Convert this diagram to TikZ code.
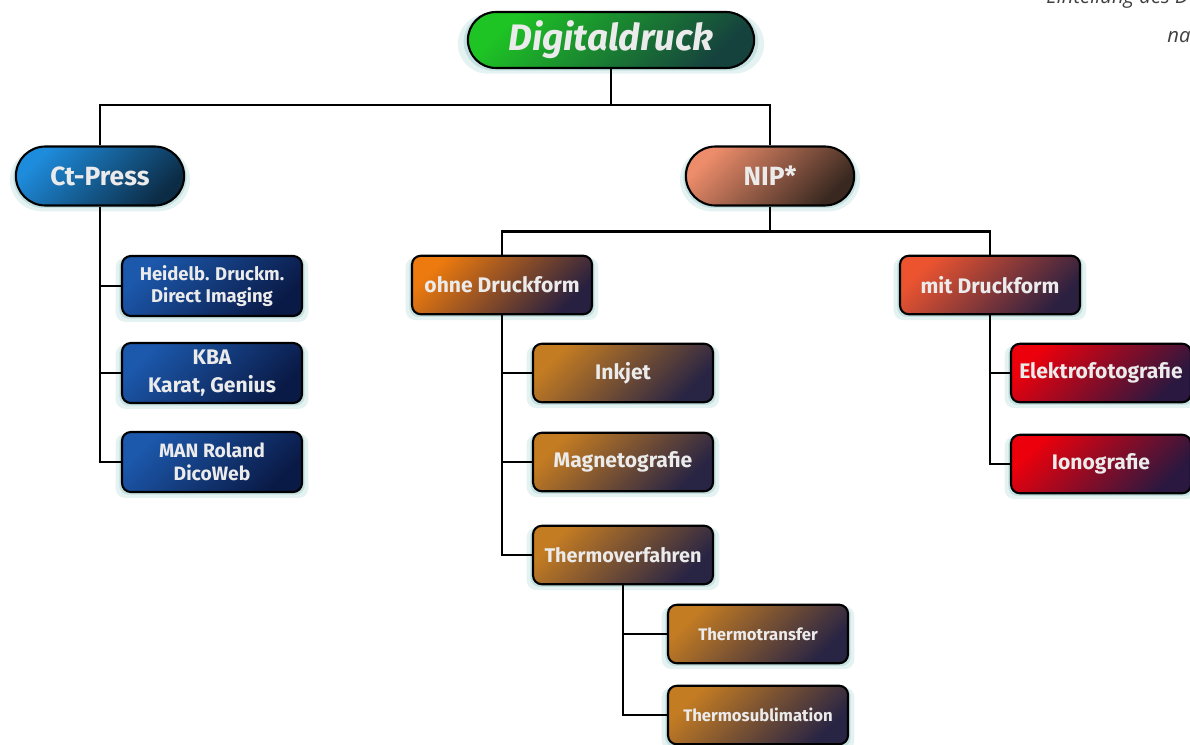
\documentclass[tikz,border=0pt]{standalone}
\usepackage{fontspec}
\setsansfont{Fira Sans}
\newfontfamily\notefont{Open Sans}
\usetikzlibrary{positioning,shapes.misc,shadows}
\definecolor{GreenTop}{RGB}{30,196,36}
\definecolor{GreenEnd}{RGB}{22,66,62}
\definecolor{SkyTop}{RGB}{30,140,220}
\definecolor{SkyEnd}{RGB}{12,44,70}
\definecolor{NipTop}{RGB}{236,140,106}
\definecolor{NipEnd}{RGB}{56,40,32}
\definecolor{NavyTop}{RGB}{28,88,172}
\definecolor{NavyEnd}{RGB}{10,26,70}
\definecolor{OhneTop}{RGB}{236,122,14}
\definecolor{OhneEnd}{RGB}{40,32,64}
\definecolor{MitTop}{RGB}{236,84,48}
\definecolor{MitEnd}{RGB}{44,32,64}
\definecolor{BrownTop}{RGB}{196,124,34}
\definecolor{BrownEnd}{RGB}{40,36,68}
\definecolor{RedTop}{RGB}{236,0,12}
\definecolor{RedEnd}{RGB}{42,24,64}
\definecolor{GlowColor}{RGB}{170,212,212}

\begin{document}
\begin{tikzpicture}[x=0.02cm, y=-0.02cm, font=\sffamily\bfseries,
    glow/.style={general shadow={fill=GlowColor, opacity=0.3, shadow scale=1.07, shadow yshift=-2pt},
      general shadow={fill=GlowColor, opacity=0.55, shadow scale=1.03, shadow yshift=-1pt}},
    pill/.style={rounded rectangle, draw=black, line width=1.2pt, text=white!92!black,
      glow, font=\sffamily\bfseries\fontsize{15}{17}\selectfont,
      minimum width=3.6cm, minimum height=1.18cm},
    box/.style={rectangle, rounded corners=5pt, draw=black, line width=1.2pt,
      text=white!92!black, align=center, minimum width=3.6cm, minimum height=1.17cm,
      inner sep=2pt, glow, font=\sffamily\bfseries\fontsize{12}{14}\selectfont},
    tint/.style 2 args={top color=#1, bottom color=#2, shading angle=45},
    navybox/.style={box, tint={NavyTop}{NavyEnd}, minimum height=1.2cm},
    brownbox/.style={box, tint={BrownTop}{BrownEnd}},
    redbox/.style={box, tint={RedTop}{RedEnd}},
    link/.style={line width=1.2pt}]
  \useasboundingbox (0,0) rectangle (1190,744);

  % note at the top right
  \node[anchor=base west, inner sep=0, text=black!75,
    font=\notefont\itshape\fontsize{11.5}{13}\selectfont] (n1) at (1046,3) {Einteilung des D};
  \node[anchor=base west, inner sep=0, text=black!75,
    font=\notefont\itshape\fontsize{11.5}{13}\selectfont] (n2) at (1167,42) {na};

  % top levels
  \node[pill, tint={GreenTop}{GreenEnd}, minimum width=5.96cm, minimum height=1.12cm,
    font=\sffamily\bfseries\itshape\fontsize{21}{24}\selectfont] (dd) at (611,40) {Digitaldruck};
  \node[pill, tint={SkyTop}{SkyEnd}] (ct) at (100,176) {Ct-Press};
  \node[pill, tint={NipTop}{NipEnd}] (nip) at (770,176) {NIP*};

  % Ct-Press
  \node[navybox, font=\sffamily\bfseries\fontsize{10.5}{12.5}\selectfont] (heid) at (212,286) {Heidelb. Druckm.\\Direct Imaging};
  \node[navybox, font=\sffamily\bfseries\fontsize{12}{15.5}\selectfont] (kba) at (212,373) {KBA\\Karat, Genius};
  \node[navybox, font=\sffamily\bfseries\fontsize{11}{13}\selectfont] (man) at (212,462) {MAN Roland\\DicoWeb};

  % NIP
  \node[box, tint={OhneTop}{OhneEnd}] (ohne) at (502,285) {ohne Druckform};
  \node[box, tint={MitTop}{MitEnd}] (mit) at (990,285) {mit Druckform};
  \node[brownbox] (ink) at (623,373) {Inkjet};
  \node[brownbox] (mag) at (623,462) {Magnetografie};
  \node[brownbox, font=\sffamily\bfseries\fontsize{11.3}{13}\selectfont] (therm) at (623,555) {Thermoverfahren};
  \node[brownbox, font=\sffamily\bfseries\fontsize{9.5}{11}\selectfont] (ttr) at (758,634) {Thermotransfer};
  \node[brownbox, font=\sffamily\bfseries\fontsize{9.5}{11}\selectfont] (tsub) at (758,715) {Thermosublimation};
  \node[redbox] (elek) at (1101,373) {Elektrofotografie};
  \node[redbox] (iono) at (1101,464) {Ionografie};

  % connectors
  \draw[link] (dd.south) -- ++(0,36) -| (ct.north);
  \draw[link] (dd.south) -- ++(0,36) -| (nip.north);
  \foreach \n in {heid,kba,man} \draw[link] (ct.south) |- (\n.west);
  \draw[link] (nip.south) -- ++(0,25) -| (ohne.north);
  \draw[link] (nip.south) -- ++(0,25) -| (mit.north);
  \foreach \n in {ink,mag,therm} \draw[link] (ohne.south) |- (\n.west);
  \foreach \n in {ttr,tsub} \draw[link] (therm.south) |- (\n.west);
  \foreach \n in {elek,iono} \draw[link] (mit.south) |- (\n.west);
\end{tikzpicture}
\end{document}
